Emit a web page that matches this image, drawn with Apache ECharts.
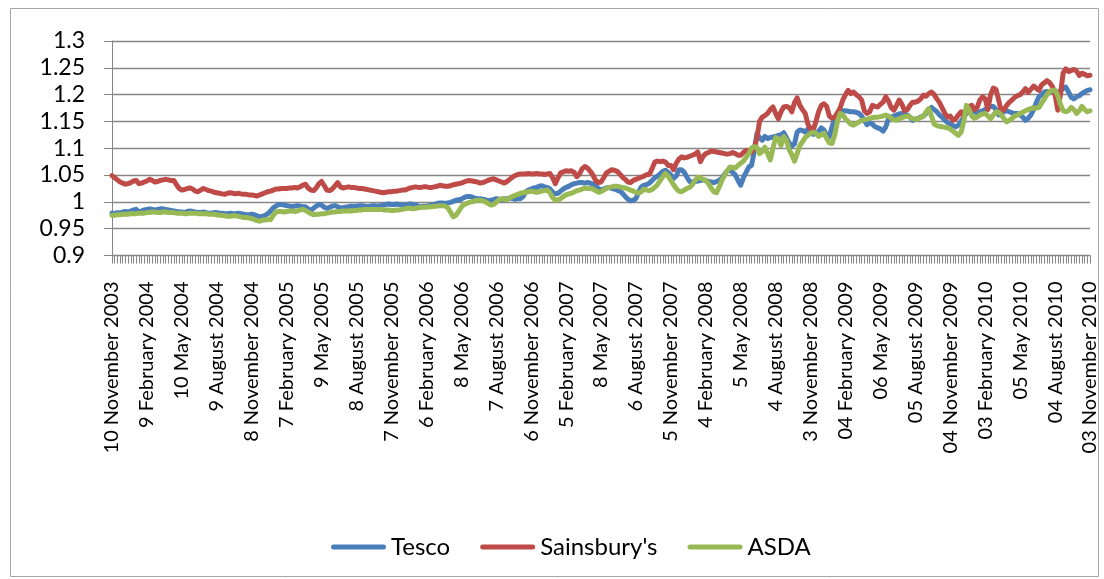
<!DOCTYPE html>
<html>
<head>
<meta charset="utf-8">
<script src="https://cdn.jsdelivr.net/npm/echarts@6/dist/echarts.min.js"></script>
<style>
html,body{margin:0;padding:0;background:#fff;}
#chart{width:1104px;height:579px;}
</style>
</head>
<body>
<div id="chart"></div>
<script>
// Tick labels on the category axis (one every 13 weekly observations)
const tickLabels = ['10 November 2003','9 February 2004','10 May 2004','9 August 2004','8 November 2004','7 February 2005','9 May 2005','8 August 2005','7 November 2005','6 February 2006','8 May 2006','7 August 2006','6 November 2006','5 February 2007','8 May 2007','6 August 2007','5 November 2007','4 February 2008','5 May 2008','4 August 2008','3 November 2008','04 February 2009','06 May 2009','05 August 2009','04 November 2009','03 February 2010','05 May 2010','04 August 2010','03 November 2010'];

const seriesNames = ['Tesco', "Sainsbury's", 'ASDA'];

const tesco = [
0.979,0.978,0.980,0.979,0.981,0.982,0.981,0.983,0.985,0.986,0.981,0.983,0.985,
0.986,0.987,0.986,0.985,0.986,0.987,0.987,0.986,0.985,0.984,0.983,0.982,0.981,
0.981,0.980,0.982,0.983,0.982,0.981,0.980,0.980,0.981,0.980,0.979,0.979,0.980,
0.980,0.979,0.979,0.978,0.978,0.979,0.978,0.978,0.979,0.978,0.977,0.976,0.976,
0.977,0.976,0.974,0.972,0.973,0.975,0.978,0.983,0.989,0.992,0.995,0.995,0.994,
0.993,0.992,0.991,0.992,0.993,0.992,0.991,0.991,0.987,0.984,0.988,0.992,0.995,
0.994,0.990,0.988,0.990,0.992,0.993,0.991,0.989,0.989,0.990,0.991,0.992,0.992,
0.992,0.993,0.993,0.992,0.991,0.992,0.993,0.993,0.992,0.993,0.994,0.995,0.996,
0.995,0.995,0.996,0.995,0.994,0.994,0.995,0.996,0.995,0.994,0.992,0.991,0.992,
0.992,0.993,0.994,0.995,0.997,0.998,0.998,0.997,0.998,0.999,1.001,1.003,1.004,
1.005,1.008,1.010,1.010,1.009,1.007,1.006,1.006,1.005,1.004,1.002,1.003,1.004,
1.006,1.005,1.004,1.006,1.005,1.007,1.006,1.005,1.006,1.006,1.010,1.019,1.022,
1.024,1.026,1.027,1.029,1.030,1.028,1.027,1.024,1.018,1.015,1.016,1.020,1.024,
1.027,1.029,1.032,1.034,1.035,1.036,1.036,1.035,1.036,1.035,1.033,1.030,1.025,
1.022,1.024,1.026,1.027,1.025,1.024,1.022,1.020,1.016,1.010,1.005,1.002,1.003,
1.006,1.018,1.028,1.031,1.032,1.035,1.040,1.045,1.048,1.052,1.057,1.059,1.055,
1.050,1.044,1.048,1.060,1.060,1.055,1.046,1.038,1.037,1.038,1.039,1.040,1.041,
1.040,1.038,1.037,1.036,1.038,1.040,1.044,1.052,1.058,1.059,1.055,1.050,1.040,
1.031,1.045,1.055,1.065,1.068,1.093,1.127,1.120,1.115,1.122,1.118,1.120,1.121,
1.122,1.124,1.125,1.129,1.120,1.110,1.104,1.108,1.130,1.134,1.133,1.130,1.136,
1.132,1.126,1.128,1.132,1.138,1.134,1.124,1.122,1.140,1.155,1.162,1.168,1.170,
1.170,1.169,1.168,1.168,1.167,1.165,1.160,1.152,1.144,1.148,1.145,1.140,1.138,
1.136,1.132,1.140,1.155,1.158,1.160,1.162,1.164,1.165,1.164,1.162,1.158,1.152,
1.154,1.156,1.158,1.160,1.165,1.170,1.176,1.172,1.168,1.162,1.158,1.152,1.148,
1.145,1.142,1.140,1.143,1.150,1.158,1.165,1.168,1.170,1.168,1.166,1.168,1.170,
1.172,1.176,1.178,1.178,1.172,1.162,1.165,1.168,1.170,1.168,1.166,1.165,1.165,
1.162,1.158,1.152,1.156,1.162,1.172,1.185,1.196,1.200,1.205,1.206,1.205,1.206,
1.206,1.204,1.207,1.212,1.214,1.205,1.195,1.192,1.196,1.198,1.202,1.205,1.208,
1.209];

const sainsburys = [
1.049,1.045,1.041,1.037,1.035,1.033,1.034,1.036,1.039,1.040,1.034,1.035,1.037,
1.039,1.042,1.040,1.037,1.038,1.040,1.041,1.042,1.041,1.040,1.040,1.032,1.025,
1.022,1.023,1.025,1.026,1.024,1.020,1.019,1.022,1.025,1.023,1.021,1.020,1.018,
1.017,1.016,1.015,1.014,1.016,1.017,1.016,1.015,1.016,1.015,1.014,1.014,1.013,
1.013,1.012,1.011,1.013,1.015,1.017,1.019,1.020,1.022,1.024,1.024,1.025,1.025,
1.025,1.026,1.026,1.027,1.026,1.028,1.031,1.033,1.026,1.022,1.021,1.026,1.034,
1.038,1.030,1.022,1.021,1.024,1.030,1.036,1.028,1.026,1.027,1.028,1.027,1.027,
1.026,1.025,1.025,1.024,1.023,1.022,1.021,1.020,1.019,1.018,1.017,1.018,1.019,
1.019,1.020,1.020,1.021,1.022,1.022,1.024,1.026,1.027,1.028,1.027,1.027,1.028,
1.028,1.027,1.027,1.028,1.029,1.031,1.030,1.029,1.029,1.030,1.032,1.033,1.034,
1.035,1.037,1.039,1.040,1.039,1.038,1.037,1.035,1.036,1.038,1.040,1.042,1.043,
1.041,1.039,1.037,1.035,1.038,1.042,1.046,1.049,1.051,1.052,1.052,1.052,1.053,
1.052,1.052,1.053,1.052,1.052,1.051,1.052,1.053,1.045,1.034,1.045,1.054,1.056,
1.058,1.057,1.058,1.055,1.047,1.052,1.062,1.066,1.063,1.057,1.050,1.040,1.036,
1.037,1.045,1.054,1.057,1.060,1.059,1.057,1.052,1.046,1.042,1.037,1.036,1.040,
1.042,1.044,1.046,1.048,1.051,1.051,1.062,1.074,1.076,1.075,1.076,1.074,1.068,
1.068,1.060,1.072,1.080,1.084,1.082,1.083,1.085,1.087,1.089,1.093,1.075,1.085,
1.090,1.092,1.095,1.094,1.093,1.092,1.091,1.090,1.089,1.090,1.092,1.090,1.087,
1.087,1.092,1.096,1.094,1.092,1.100,1.118,1.150,1.158,1.161,1.165,1.172,1.177,
1.165,1.155,1.168,1.177,1.178,1.176,1.168,1.185,1.194,1.180,1.172,1.165,1.145,
1.136,1.134,1.150,1.168,1.180,1.183,1.178,1.160,1.156,1.158,1.166,1.175,1.190,
1.200,1.208,1.202,1.205,1.200,1.196,1.190,1.170,1.165,1.168,1.180,1.178,1.177,
1.182,1.186,1.196,1.188,1.176,1.171,1.180,1.190,1.182,1.170,1.172,1.180,1.186,
1.186,1.188,1.192,1.199,1.197,1.202,1.205,1.200,1.192,1.185,1.175,1.165,1.158,
1.160,1.152,1.155,1.162,1.168,1.160,1.172,1.178,1.180,1.172,1.176,1.190,1.196,
1.192,1.172,1.200,1.212,1.210,1.190,1.168,1.172,1.180,1.186,1.190,1.195,1.198,
1.200,1.205,1.211,1.204,1.210,1.216,1.212,1.208,1.218,1.222,1.226,1.222,1.215,
1.200,1.171,1.200,1.240,1.248,1.243,1.245,1.247,1.244,1.236,1.240,1.238,1.235,
1.236];

const asda = [
0.975,0.975,0.976,0.976,0.977,0.977,0.977,0.978,0.978,0.978,0.979,0.979,0.979,
0.980,0.980,0.981,0.981,0.980,0.980,0.981,0.981,0.980,0.980,0.980,0.979,0.979,
0.979,0.978,0.978,0.979,0.979,0.979,0.978,0.978,0.978,0.978,0.977,0.977,0.977,
0.976,0.975,0.975,0.974,0.973,0.973,0.974,0.974,0.973,0.972,0.971,0.971,0.970,
0.969,0.967,0.965,0.964,0.966,0.966,0.967,0.967,0.975,0.981,0.982,0.982,0.981,
0.982,0.983,0.983,0.982,0.983,0.985,0.986,0.984,0.981,0.978,0.976,0.977,0.977,
0.978,0.978,0.979,0.980,0.981,0.981,0.982,0.982,0.983,0.983,0.983,0.983,0.984,
0.984,0.985,0.985,0.986,0.986,0.986,0.986,0.986,0.986,0.986,0.985,0.985,0.985,
0.984,0.984,0.985,0.985,0.986,0.987,0.988,0.988,0.987,0.988,0.989,0.990,0.990,
0.990,0.991,0.991,0.992,0.992,0.993,0.993,0.992,0.989,0.981,0.972,0.975,0.982,
0.990,0.995,0.997,0.999,1.000,1.002,1.003,1.003,1.002,1.000,0.997,0.994,0.995,
0.999,1.004,1.006,1.005,1.004,1.007,1.010,1.012,1.014,1.016,1.017,1.018,1.019,
1.020,1.019,1.018,1.019,1.020,1.021,1.022,1.017,1.008,1.003,1.004,1.006,1.010,
1.013,1.015,1.016,1.018,1.021,1.022,1.024,1.026,1.025,1.025,1.024,1.021,1.018,
1.019,1.022,1.025,1.027,1.028,1.029,1.029,1.028,1.027,1.026,1.024,1.022,1.020,
1.018,1.016,1.019,1.024,1.022,1.021,1.023,1.027,1.032,1.040,1.047,1.053,1.048,
1.040,1.032,1.025,1.020,1.019,1.022,1.025,1.027,1.032,1.040,1.046,1.045,1.042,
1.040,1.034,1.026,1.019,1.017,1.028,1.040,1.050,1.058,1.065,1.064,1.063,1.068,
1.072,1.076,1.083,1.090,1.100,1.103,1.102,1.090,1.094,1.102,1.090,1.078,1.100,
1.120,1.118,1.105,1.122,1.115,1.098,1.088,1.076,1.090,1.105,1.112,1.120,1.124,
1.128,1.130,1.128,1.122,1.125,1.128,1.118,1.110,1.109,1.125,1.150,1.165,1.162,
1.155,1.150,1.145,1.143,1.146,1.149,1.152,1.153,1.154,1.156,1.157,1.158,1.158,
1.159,1.160,1.162,1.160,1.156,1.153,1.152,1.155,1.157,1.159,1.160,1.158,1.155,
1.154,1.155,1.157,1.160,1.168,1.174,1.160,1.145,1.142,1.141,1.140,1.139,1.138,
1.136,1.132,1.128,1.124,1.130,1.150,1.180,1.172,1.160,1.156,1.158,1.162,1.164,
1.165,1.160,1.155,1.162,1.168,1.167,1.162,1.155,1.149,1.152,1.156,1.160,1.162,
1.165,1.167,1.170,1.172,1.174,1.175,1.175,1.176,1.184,1.192,1.200,1.206,1.208,
1.208,1.198,1.182,1.170,1.168,1.170,1.176,1.172,1.165,1.170,1.178,1.172,1.168,
1.170];

const yTicks = { min: 0.9, max: 1.3, interval: 0.05 };
const LABEL_EVERY = 13;

// categories: one per weekly observation; every 13th carries the tick label
const categories = tesco.map(function (_, i) {
  return (i % LABEL_EVERY === 0 && tickLabels[i / LABEL_EVERY]) ? tickLabels[i / LABEL_EVERY] : ('wk' + i);
});

const colors = ['#4A7EBB', '#BE4B48', '#98B954'];
const FONT = 'Lato';
const gridColor = '#868686';
const legendIcon = 'path://M2.5,0 H52.5 A2.5,2.5 0 0 1 52.5,5 H2.5 A2.5,2.5 0 0 1 2.5,0 Z';

const chart = echarts.init(document.getElementById('chart'), null, { renderer: 'canvas' });
const dataSets = [tesco, sainsburys, asda];

chart.setOption({
  animation: false,
  backgroundColor: '#ffffff',
  color: colors,
  textStyle: { fontFamily: FONT },
  graphic: [{
    type: 'rect', silent: true,
    shape: { x: 10.5, y: 8.5, width: 1088, height: 568 },
    style: { fill: 'none', stroke: '#a6a6a6', lineWidth: 1 }
  }],
  grid: { left: 112, top: 41, width: 978, height: 214.5, containLabel: false },
  legend: {
    data: seriesNames.map(function (n) { return { name: n, icon: legendIcon }; }),
    left: 331, top: 535, padding: 0,
    itemWidth: 55, itemHeight: 5, itemGap: 30,
    textStyle: { fontFamily: FONT, fontSize: 24, color: '#000' }
  },
  xAxis: {
    type: 'category',
    data: categories,
    boundaryGap: false,
    axisLine: { show: true, lineStyle: { color: gridColor, width: 1 } },
    axisTick: { show: true, interval: 0, length: 8, lineStyle: { color: gridColor, width: 1 } },
    axisLabel: {
      interval: LABEL_EVERY - 1, rotate: 90, margin: 26,
      fontFamily: FONT, fontSize: 20, color: '#000'
    },
    splitLine: { show: false }
  },
  yAxis: {
    type: 'value',
    min: yTicks.min, max: yTicks.max, interval: yTicks.interval,
    axisLine: { show: true, lineStyle: { color: gridColor, width: 1 } },
    axisTick: { show: true, length: 8, lineStyle: { color: gridColor, width: 1 } },
    axisLabel: {
      margin: 27, fontFamily: FONT, fontSize: 23, color: '#000',
      formatter: function (v) { return String(+(+v).toFixed(2)); }
    },
    splitLine: { show: true, lineStyle: { color: gridColor, width: 1.3 } }
  },
  series: seriesNames.map(function (name, k) {
    return {
      name: name, type: 'line', data: dataSets[k],
      symbol: 'none', showSymbol: false, smooth: false,
      lineStyle: { width: 5, color: colors[k], cap: 'round', join: 'round' },
      itemStyle: { color: colors[k] },
      emphasis: { disabled: true },
      z: 2 + k
    };
  })
});
</script>
</body>
</html>
